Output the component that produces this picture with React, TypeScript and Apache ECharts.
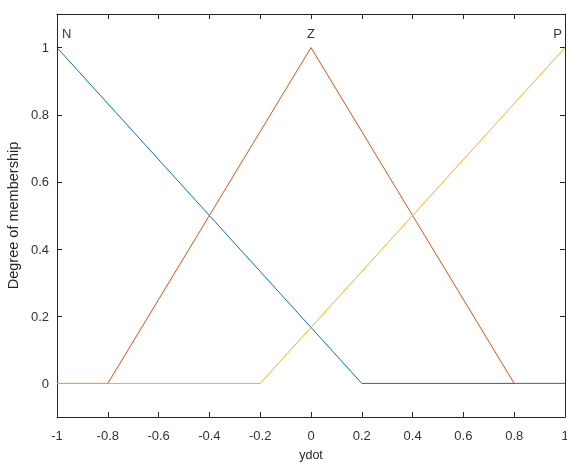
import React, { useEffect, useRef } from "react";
import * as echarts from "echarts";

const nX = [-1, 0.2, 1];
const nY = [1, 0, 0];
const zX = [-1, -0.8, 0, 0.8, 1];
const zY = [0, 0, 1, 0, 0];
const pX = [-1, -0.2, 1];
const pY = [0, 0, 1];
const mfNames = ["N", "Z", "P"];
const mfPeakX = [-1, 0, 1];
const mfPeakY = [1, 1, 1];
const yTicks = [0, 0.2, 0.4, 0.6, 0.8, 1];

const zip = (xs: number[], ys: number[]) => xs.map((x, i) => [x, ys[i]]);

export default function App() {
  const ref = useRef<HTMLDivElement>(null);
  useEffect(() => {
    if (!ref.current) return;
    const chart = echarts.init(ref.current, undefined, { renderer: "svg" });
    const axisColor = "#262626";
    const font = "Liberation Sans, Arial, sans-serif";
    const baseX = {
      type: "value" as const,
      min: -1,
      max: 1,
      interval: 0.2,
      splitLine: { show: false },
      axisLine: { show: true, onZero: false, lineStyle: { color: axisColor, width: 1 } },
      axisTick: { show: true, inside: true, length: 5, lineStyle: { color: axisColor } },
    };
    const baseY = {
      type: "value" as const,
      min: -0.1,
      max: 1.1,
      interval: 0.1,
      splitLine: { show: false },
      axisLine: { show: true, onZero: false, lineStyle: { color: axisColor, width: 1 } },
      axisTick: { show: true, inside: true, length: 5, customValues: yTicks, lineStyle: { color: axisColor } },
    };
    chart.setOption({
      animation: false,
      grid: { left: 57, right: 2, top: 14, bottom: 47, outerBoundsMode: "none", containLabel: false },
      xAxis: [
        {
          ...baseX,
          position: "bottom",
          name: "ydot",
          nameLocation: "middle",
          nameGap: 31,
          nameTextStyle: { color: axisColor, fontSize: 12.5, fontFamily: font },
          axisLabel: { show: true, color: "#333333", fontSize: 13, fontFamily: font, margin: 12, formatter: (v: number) => String(Math.round(v * 10) / 10) },
        },
        { ...baseX, position: "top", axisLabel: { show: false } },
      ],
      yAxis: [
        {
          ...baseY,
          position: "left",
          name: "Degree of membership",
          nameLocation: "middle",
          nameGap: 31,
          nameRotate: 90,
          nameTextStyle: { color: axisColor, fontSize: 14.5, fontFamily: font },
          axisLabel: { show: true, customValues: yTicks, color: "#333333", fontSize: 13, fontFamily: font, margin: 8, formatter: (v: number) => String(Math.round(v * 10) / 10) },
        },
        { ...baseY, position: "right", axisLabel: { show: false } },
      ],
      series: [
        { type: "line", data: zip(nX, nY), showSymbol: false, symbol: "none", lineStyle: { color: "#0072BD", width: 1 }, xAxisIndex: 0, yAxisIndex: 0 },
        { type: "line", data: zip(zX, zY), showSymbol: false, symbol: "none", lineStyle: { color: "#D95319", width: 1 }, xAxisIndex: 0, yAxisIndex: 0 },
        { type: "line", data: zip(pX, pY), showSymbol: false, symbol: "none", lineStyle: { color: "#EDB120", width: 1 }, xAxisIndex: 0, yAxisIndex: 0 },
        {
          type: "scatter",
          symbolSize: 0,
          silent: true,
          data: mfNames.map((n, i) => ({
            value: [mfPeakX[i], mfPeakY[i]],
            name: n,
            label: {
              show: true,
              formatter: n,
              position: "top",
              distance: 8,
              align: i === 0 ? "left" : i === 2 ? "right" : "center",
              offset: i === 0 ? [5, 0] : i === 2 ? [-3, 0] : [0, 0],
              color: "#000000",
              fontSize: 13,
              fontFamily: font,
            },
          })),
        },
      ],
    });
    return () => chart.dispose();
  }, []);
  return <div ref={ref} style={{ position: "fixed", left: 0, top: 0, width: 567, height: 464 }} />;
}
